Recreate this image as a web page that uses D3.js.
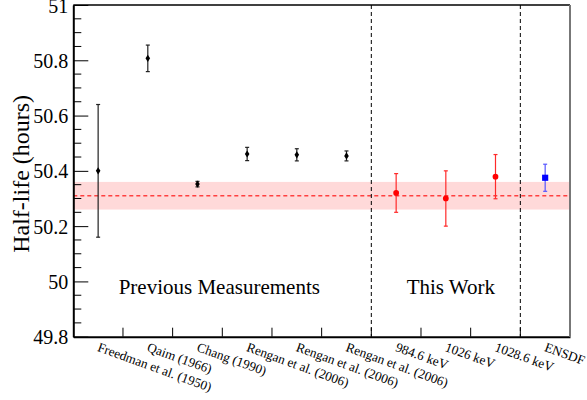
<!DOCTYPE html>
<html>
<head>
<meta charset="utf-8">
<script src="https://cdn.jsdelivr.net/npm/d3@7"></script>
</head>
<body style="margin:0">
<div class="chart"></div>
<script>
// half-life measurements
var labels = ["Freedman et al. (1950)", "Qaim (1966)", "Chang (1990)",
  "Rengan et al. (2006)", "Rengan et al. (2006)", "Rengan et al. (2006)",
  "984.6 keV", "1026 keV", "1028.6 keV", "ENSDF"];
var values = [50.40, 50.807, 50.352, 50.461, 50.458, 50.454, 50.32, 50.30, 50.379, 50.375];
var errors = [0.24, 0.048, 0.01, 0.024, 0.022, 0.018, 0.07, 0.10, 0.08, 0.049];
var groups = ["prev", "prev", "prev", "prev", "prev", "prev", "work", "work", "work", "ensdf"];
var meanValue = 50.31;
var meanError = 0.05;
var yTicks = [49.8, 50, 50.2, 50.4, 50.6, 50.8, 51];

var serif = "Liberation Serif";
var svgWidth = 587;
var svgHeight = 400;

var margin = { top: 5, bottom: 63.3, right: 17, left: 73.3 };
var width = svgWidth - margin.left - margin.right;
var height = svgHeight - margin.top - margin.bottom;

var svg = d3.select(".chart")
  .append("svg")
  .attr("width", svgWidth)
  .attr("height", svgHeight);

var chartGroup = svg.append("g")
  .attr("transform", `translate(${margin.left}, ${margin.top})`);

var idx = d3.range(labels.length);
var xScale = d3.scaleBand().domain(idx).range([0, width]).padding(0);
var yScale = d3.scaleLinear().domain([49.8, 51]).range([height, 0]);
var cx = i => xScale(i) + xScale.bandwidth() / 2;

// mean band
chartGroup.append("rect")
  .attr("x", 0)
  .attr("width", width)
  .attr("y", yScale(meanValue + meanError))
  .attr("height", yScale(meanValue - meanError) - yScale(meanValue + meanError))
  .attr("fill", "#ffd9d9");

chartGroup.append("line")
  .attr("x1", 0).attr("x2", width)
  .attr("y1", yScale(meanValue)).attr("y2", yScale(meanValue))
  .attr("stroke", "#ff4040")
  .attr("stroke-width", 1.3)
  .attr("stroke-dasharray", "4,3");

// separators
[6, 9].forEach(function (i) {
  chartGroup.append("line")
    .attr("x1", xScale(i)).attr("x2", xScale(i))
    .attr("y1", 0).attr("y2", height)
    .attr("stroke", "#000")
    .attr("stroke-width", 1)
    .attr("stroke-dasharray", "4,3");
});

// y axis: major + minor ticks, inward
var minor = d3.range(49.85, 51, 0.05).filter(v => Math.abs(v * 5 - Math.round(v * 5)) > 0.01);
chartGroup.selectAll(".minor")
  .data(minor)
  .enter()
  .append("line")
  .attr("x1", 0).attr("x2", 8)
  .attr("y1", d => yScale(d)).attr("y2", d => yScale(d))
  .attr("stroke", "#000").attr("stroke-width", 1);

var yAxis = d3.axisLeft(yScale).tickValues(yTicks).tickSizeInner(-15).tickSizeOuter(0)
  .tickFormat(d => d3.format("")(+d.toFixed(1)));
var yG = chartGroup.append("g").call(yAxis);
yG.attr("font-family", serif).attr("font-size", 20);
yG.select(".domain").attr("stroke-width", 2);
yG.selectAll(".tick line").attr("stroke-width", 1);
yG.selectAll(".tick text")
  .attr("x", -5)
  .attr("dy", "0.35em")
  .attr("font-size", 20)
  .attr("fill", "#000");

// x axis ticks at bin edges, inward
var xAxis = d3.axisBottom(xScale).tickSizeInner(0).tickSizeOuter(0).tickFormat("");
var xG = chartGroup.append("g")
  .attr("transform", `translate(0, ${height})`)
  .call(xAxis);
xG.select(".domain").attr("stroke-width", 2);
xG.selectAll(".tick").remove();

chartGroup.selectAll(".xtick")
  .data(d3.range(1, labels.length))
  .enter()
  .append("line")
  .attr("x1", d => xScale(d)).attr("x2", d => xScale(d))
  .attr("y1", height).attr("y2", height - 9)
  .attr("stroke", "#000").attr("stroke-width", 1);

// frame: top and right
chartGroup.append("line")
  .attr("x1", 0).attr("x2", width).attr("y1", 0).attr("y2", 0)
  .attr("stroke", "#000").attr("stroke-width", 1.5);
chartGroup.append("line")
  .attr("x1", width).attr("x2", width).attr("y1", 0).attr("y2", height)
  .attr("stroke", "#777").attr("stroke-width", 2);

// x labels, rotated
chartGroup.selectAll(".xlabel")
  .data(idx)
  .enter()
  .append("text")
  .attr("transform", i => `translate(${cx(i) - 1.5}, ${height + 14}) rotate(20)`)
  .attr("text-anchor", "start")
  .attr("font-family", serif)
  .attr("font-size", 13.2)
  .attr("fill", "#000")
  .text(i => labels[i]);

// error bars
var colorOf = { prev: "#000", work: "#ff0000", ensdf: "#0000ff" };
var barColor = { prev: "#222", work: "#ff2a2a", ensdf: "#5555ff" };

var bars = chartGroup.selectAll(".err")
  .data(idx)
  .enter()
  .append("g");

bars.append("line")
  .attr("x1", cx).attr("x2", cx)
  .attr("y1", i => yScale(values[i] + errors[i]))
  .attr("y2", i => yScale(values[i] - errors[i]))
  .attr("stroke", i => barColor[groups[i]])
  .attr("stroke-width", 1.2);

[1, -1].forEach(function (s) {
  bars.append("line")
    .attr("x1", i => cx(i) - 2).attr("x2", i => cx(i) + 2)
    .attr("y1", i => yScale(values[i] + s * errors[i]))
    .attr("y2", i => yScale(values[i] + s * errors[i]))
    .attr("stroke", i => barColor[groups[i]])
    .attr("stroke-width", 1.2);
});

// markers
var diamond = "M0,-3.6L2.3,0L0,3.6L-2.3,0Z";
chartGroup.selectAll(".mark")
  .data(idx)
  .enter()
  .append("path")
  .attr("transform", i => `translate(${cx(i)}, ${yScale(values[i])})`)
  .attr("d", function (i) {
    if (groups[i] == "prev") return diamond;
    if (groups[i] == "work") return d3.symbol(d3.symbolCircle, 26)();
    return d3.symbol(d3.symbolSquare, 38)();
  })
  .attr("fill", i => colorOf[groups[i]]);

// region annotations
chartGroup.append("text")
  .attr("x", (xScale(0) + xScale(6)) / 2 - 3)
  .attr("y", 289)
  .attr("text-anchor", "middle")
  .attr("font-family", serif)
  .attr("font-size", 21)
  .text("Previous Measurements");

chartGroup.append("text")
  .attr("x", (xScale(6) + xScale(9)) / 2 + 5)
  .attr("y", 289)
  .attr("text-anchor", "middle")
  .attr("font-family", serif)
  .attr("font-size", 21)
  .text("This Work");

// y title
svg.append("text")
  .attr("transform", `translate(29, ${margin.top + height / 2 + 3}) rotate(-90)`)
  .attr("text-anchor", "middle")
  .attr("font-family", serif)
  .attr("font-size", 24)
  .text("Half-life (hours)");
</script>
</body>
</html>
